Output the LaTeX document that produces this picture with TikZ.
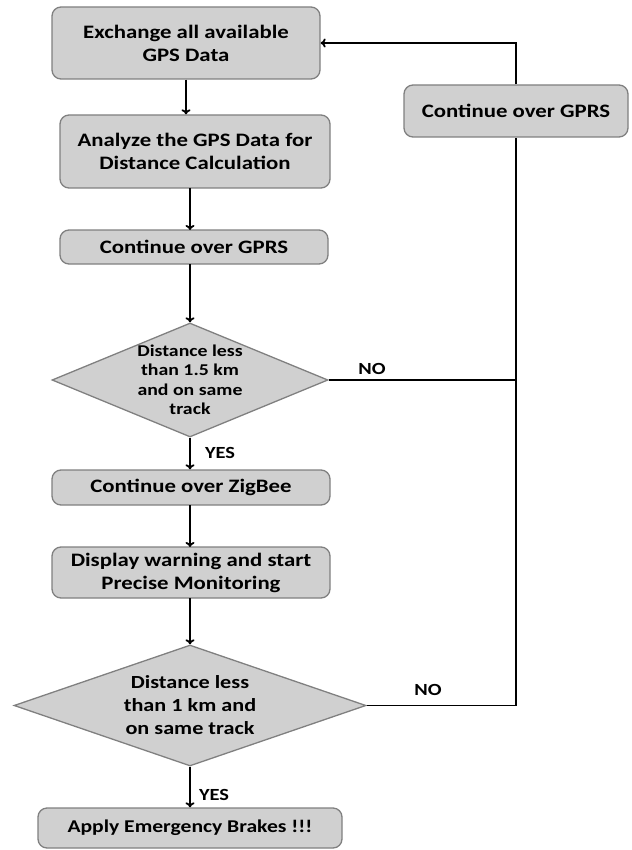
\documentclass[tikz,border=0pt]{standalone}
\usepackage{fontspec}
\setmainfont{Carlito}[FakeStretch=1.2]
\usetikzlibrary{shapes.geometric,arrows.meta}
\definecolor{boxfill}{RGB}{208,208,208}
\definecolor{boxline}{RGB}{128,128,128}
\tikzset{
  box/.style={rectangle, rounded corners=9pt, draw=boxline, line width=1.3pt,
    fill=boxfill, font=\bfseries\fontsize{19}{23}\selectfont, align=center, inner sep=0pt},
  decision/.style={diamond, draw=boxline, line width=1.3pt, fill=boxfill, inner sep=0pt},
  flow/.style={line width=1.8pt, -{To[length=5pt,width=9pt]}},
  link/.style={line width=1.8pt},
  answer/.style={font=\bfseries\fontsize{17}{18}\selectfont}
}
\begin{document}
\begin{tikzpicture}[x=1pt,y=-1pt]
    \useasboundingbox (0,0) rectangle (631,850);
    % main column
    \node[box, minimum width=268pt, minimum height=72pt] (exchange) at (186,43) {Exchange all available\\GPS Data};
    \node[box, minimum width=270pt, minimum height=73pt] (analyze) at (195,151.5) {Analyze the GPS Data for\\Distance Calculation};
    \node[box, minimum width=268pt, minimum height=34pt] (gprsA) at (194,247) {Continue over GPRS};
    \node[decision, minimum width=276pt, minimum height=114pt] (far) at (190,380) {};
    \node[align=center, font=\bfseries\fontsize{16.5}{19.5}\selectfont] at (far.center) {Distance less\\than 1.5 km\\and on same\\track};
    \node[box, minimum width=278pt, minimum height=35pt] (zigbee) at (191,487.5) {Continue over ZigBee};
    \node[box, minimum width=278pt, minimum height=51pt] (warn) at (191,572.5) {Display warning and start\\Precise Monitoring};
    \node[decision, minimum width=352pt, minimum height=121pt] (near) at (190,705.5) {};
    \node[align=center, font=\bfseries\fontsize{18.5}{23}\selectfont] at (near.center) {Distance less\\than 1 km and\\on same track};
    \node[box, minimum width=304pt, minimum height=40pt, font=\bfseries\fontsize{18}{22}\selectfont] (brakes) at (190,828) {Apply Emergency Brakes !!!};
    % return path
    \node[box, minimum width=224pt, minimum height=52pt] (gprsB) at (516,111) {Continue over GPRS};
    \coordinate (bend) at (gprsB.south |- near.east);
    \coordinate (join) at (gprsB.south |- far.east);

    \draw[flow] (exchange.south) -- (exchange.south |- analyze.north);
    \draw[flow] (190,188) -- (190,230);
    \draw[flow] (190,264) -- (far.north);
    \draw[flow] (far.south) -- (far.south |- zigbee.north);
    \draw[flow] (190,505) -- (190,547);
    \draw[flow] (190,598) -- (near.north);
    \draw[flow] (near.south) -- (near.south |- brakes.north);
    \draw[link] (far.east) -- (join);
    \draw[link] (near.east) -- (bend) -- (gprsB.south);
    \draw[flow] (gprsB.north) |- (exchange.east);

    \node[answer] at (372,369) {NO};
    \node[answer] at (428,690) {NO};
    \node[answer] at (220,453) {YES};
    \node[answer] at (214,795) {YES};
\end{tikzpicture}
\end{document}
